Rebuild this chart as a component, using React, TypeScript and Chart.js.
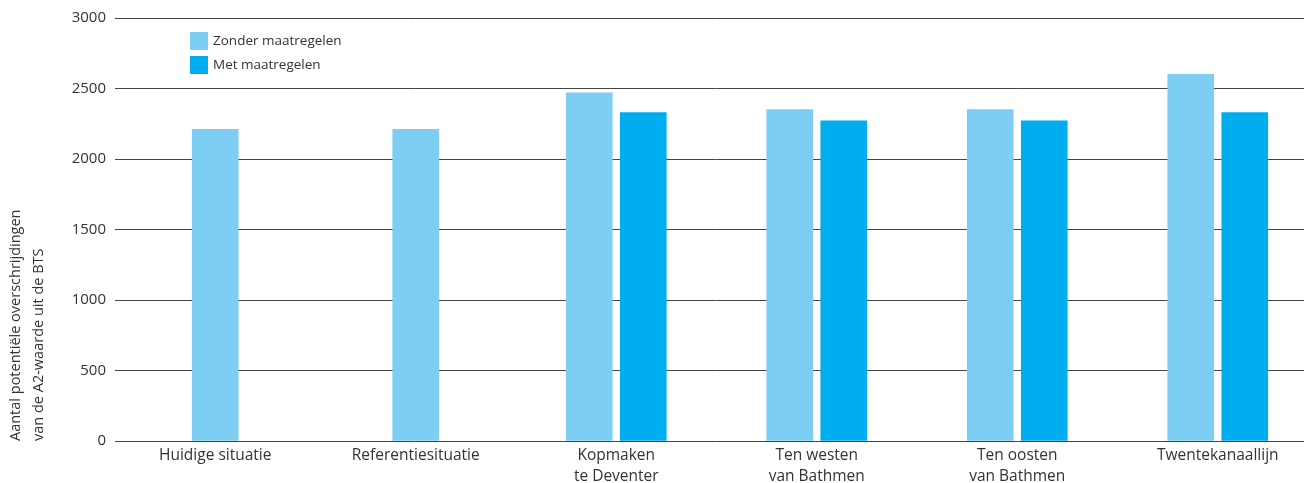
import React, { useEffect, useRef } from "react";
import { Chart, registerables } from "chart.js";

Chart.register(...registerables);

const categories: string[][] = [
  ["Huidige situatie"],
  ["Referentiesituatie"],
  ["Kopmaken", "te Deventer"],
  ["Ten westen", "van Bathmen"],
  ["Ten oosten", "van Bathmen"],
  ["Twentekanaallijn"],
];
const zonderMaatregelen: (number | null)[] = [2210, 2210, 2470, 2350, 2350, 2600];
const metMaatregelen: (number | null)[] = [null, null, 2330, 2270, 2270, 2330];
const seriesLabels = ["Zonder maatregelen", "Met maatregelen"];
const yTicks = [0, 500, 1000, 1500, 2000, 2500, 3000];
const yTitle = ["Aantal potentiële overschrijdingen", "van de A2-waarde uit de BTS"];

const FONT = "'Open Sans', 'DejaVu Sans', sans-serif";
const TEXT = "#333333";

const legendPlugin = {
  id: "innerLegend",
  afterDraw(chart: any) {
    const ctx = chart.ctx;
    const x = 190;
    const y0 = 32;
    const box = 18;
    const gap = 24;
    ctx.save();
    ctx.font = `13.5px ${FONT}`;
    ctx.textBaseline = "middle";
    ctx.textAlign = "left";
    chart.data.datasets.forEach((ds: any, i: number) => {
      const y = y0 + i * gap;
      ctx.fillStyle = ds.backgroundColor;
      ctx.fillRect(x, y, box, box);
      ctx.fillStyle = TEXT;
      ctx.fillText(ds.label, x + box + 5, y + box / 2 + 0.5);
    });
    ctx.restore();
  },
};

export default function App() {
  const ref = useRef<HTMLCanvasElement | null>(null);

  useEffect(() => {
    document.body.style.margin = "0";
    document.body.style.overflow = "hidden";
    document.documentElement.style.overflow = "hidden";
    if (!ref.current) return;
    const chart = new Chart(ref.current, {
      type: "bar",
      data: {
        labels: categories,
        datasets: [
          {
            label: seriesLabels[0],
            data: zonderMaatregelen,
            backgroundColor: "#7ECEF3",
          },
          {
            label: seriesLabels[1],
            data: metMaatregelen,
            backgroundColor: "#00ADEE",
          },
        ],
      },
      options: {
        animation: false,
        responsive: false,
        maintainAspectRatio: false,
        layout: { padding: { top: 17, right: 2, left: 0, bottom: 0 } },
        datasets: {
          bar: {
            barThickness: 54,
            maxBarThickness: 46,
            skipNull: true,
          } as any,
        },
        plugins: {
          legend: { display: false },
          tooltip: { enabled: false },
        },
        scales: {
          x: {
            grid: { display: false, drawTicks: false },
            border: { display: false },
            ticks: {
              color: TEXT,
              font: { family: FONT, size: 15.5, lineHeight: 1.3 },
              padding: 5,
              maxRotation: 0,
              autoSkip: false,
            },
            afterFit(scale: any) {
              scale.height = 42;
            },
          },
          y: {
            min: 0,
            max: 3000,
            afterBuildTicks(scale: any) {
              scale.ticks = yTicks.map((v) => ({ value: v }));
            },
            grid: {
              color: "#444444",
              lineWidth: 1,
              drawTicks: false,
            },
            border: { display: false },
            ticks: {
              color: TEXT,
              font: { family: FONT, size: 15 },
              padding: 9,
              callback: (v: any) => String(v),
            },
            title: {
              display: true,
              text: yTitle,
              align: "start",
              color: TEXT,
              font: { family: FONT, size: 14.5, lineHeight: 1.55 },
              padding: { top: 5, bottom: 4 },
            },
            afterFit(scale: any) {
              scale.width = 115;
            },
          },
        },
      },
      plugins: [legendPlugin],
    });
    return () => chart.destroy();
  }, []);

  return (
    <div style={{ width: 1320, height: 483, position: "relative" }}>
      <canvas ref={ref} width={1320} height={483} style={{ width: 1320, height: 483, display: "block" }} />
    </div>
  );
}
